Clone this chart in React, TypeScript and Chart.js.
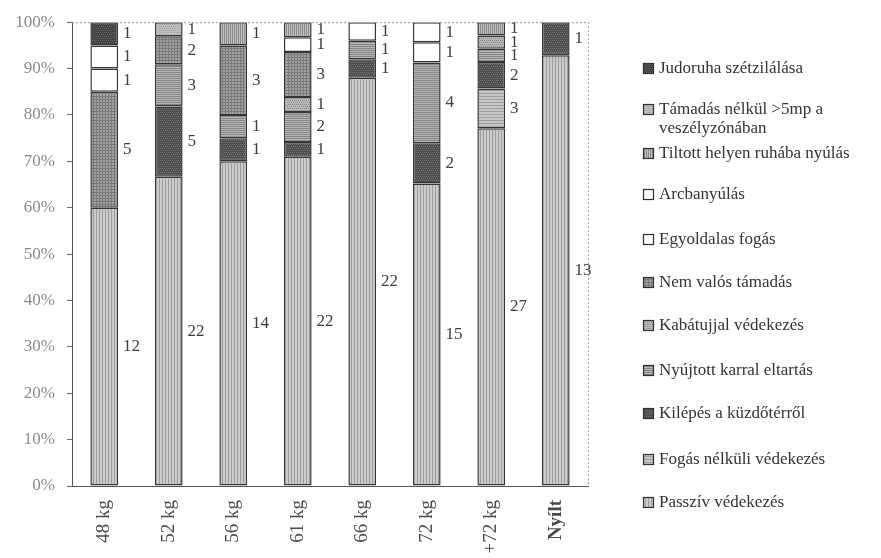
import { useEffect, useRef } from "react";
import { Chart, registerables } from "chart.js";

Chart.register(...registerables);

// Weight categories along the x axis
const categories = ["48 kg", "52 kg", "56 kg", "61 kg", "66 kg", "72 kg", "+72 kg", "Nyílt"];

// Number of penalties per category, one array per penalty type (stack order: bottom to top)
const passzivVedekezes = [12, 22, 14, 22, 22, 15, 27, 13];
const fogasNelkuliVedekezes = [0, 0, 0, 0, 0, 0, 3, 0];
const kilepes = [0, 5, 1, 1, 1, 2, 2, 1];
const nyujtottKarral = [0, 3, 1, 2, 1, 4, 1, 0];
const kabatujjal = [0, 0, 0, 1, 0, 0, 1, 0];
const nemValosTamadas = [5, 2, 3, 3, 0, 0, 0, 0];
const egyoldalasFogas = [1, 0, 0, 1, 1, 1, 0, 0];
const arcbanyulas = [1, 0, 0, 0, 0, 1, 0, 0];
const tiltottHelyen = [0, 0, 1, 1, 0, 0, 1, 0];
const tamadasNelkul = [0, 1, 0, 0, 0, 0, 0, 0];
const judoruha = [1, 0, 0, 0, 0, 0, 0, 0];

// Y axis ticks
const yTicks = [0, 10, 20, 30, 40, 50, 60, 70, 80, 90, 100];

const SERIF = "'Liberation Serif', 'DejaVu Serif', serif";

type Fill = (c: CanvasRenderingContext2D) => void;

function makePattern(size: number, draw: Fill): CanvasPattern | string {
  const cv = document.createElement("canvas");
  cv.width = size;
  cv.height = size;
  const c = cv.getContext("2d");
  if (!c) return "#bbb";
  draw(c);
  const p = c.createPattern(cv, "repeat");
  return p || "#bbb";
}

function solid(base: string): Fill {
  return (c) => {
    c.fillStyle = base;
    c.fillRect(0, 0, 64, 64);
  };
}

function vLines(base: string, line: string, step: number): Fill {
  return (c) => {
    solid(base)(c);
    c.fillStyle = line;
    for (let x = 0; x < c.canvas.width; x += step) c.fillRect(x, 0, 1, c.canvas.height);
  };
}

function hLines(base: string, line: string, step: number): Fill {
  return (c) => {
    solid(base)(c);
    c.fillStyle = line;
    for (let y = 0; y < c.canvas.height; y += step) c.fillRect(0, y, c.canvas.width, 1);
  };
}

function grid(base: string, line: string, step: number): Fill {
  return (c) => {
    vLines(base, line, step)(c);
    c.fillStyle = line;
    for (let y = 0; y < c.canvas.height; y += step) c.fillRect(0, y, c.canvas.width, 1);
  };
}

function dots(base: string, dot: string, step: number): Fill {
  return (c) => {
    solid(base)(c);
    c.fillStyle = dot;
    for (let y = 0; y < c.canvas.height; y += step)
      for (let x = (y / step) % 2 === 0 ? 0 : Math.floor(step / 2); x < c.canvas.width; x += step)
        c.fillRect(x, y, 1, 1);
  };
}

export default function App() {
  const canvasRef = useRef<HTMLCanvasElement | null>(null);

  useEffect(() => {
    document.body.style.margin = "0";
    const canvas = canvasRef.current;
    if (!canvas) return;

    const series = [
      { label: "Passzív védekezés", counts: passzivVedekezes, fill: makePattern(6, vLines("#cbcbcb", "#9c9c9c", 3)) },
      { label: "Fogás nélküli védekezés", counts: fogasNelkuliVedekezes, fill: makePattern(6, hLines("#c8c8c8", "#9e9e9e", 3)) },
      { label: "Kilépés a küzdőtérről", counts: kilepes, fill: makePattern(4, dots("#4e4e4e", "#747474", 2)) },
      { label: "Nyújtott karral eltartás", counts: nyujtottKarral, fill: makePattern(4, hLines("#b6b6b6", "#858585", 2)) },
      { label: "Kabátujjal védekezés", counts: kabatujjal, fill: makePattern(4, dots("#b8b8b8", "#8a8a8a", 2)) },
      { label: "Nem valós támadás", counts: nemValosTamadas, fill: makePattern(6, grid("#a2a2a2", "#787878", 3)) },
      { label: "Egyoldalas fogás", counts: egyoldalasFogas, fill: "#ffffff" },
      { label: "Arcbanyúlás", counts: arcbanyulas, fill: "#ffffff" },
      { label: "Tiltott helyen ruhába nyúlás", counts: tiltottHelyen, fill: makePattern(4, vLines("#c2c2c2", "#8a8a8a", 2)) },
      { label: "Támadás nélkül >5mp a veszélyzónában", counts: tamadasNelkul, fill: makePattern(4, dots("#c0c0c0", "#a0a0a0", 2)) },
      { label: "Judoruha szétzilálása", counts: judoruha, fill: makePattern(4, dots("#424242", "#666666", 2)) },
    ];

    const totals = categories.map((_, i) => series.reduce((s, d) => s + d.counts[i], 0));

    // Counts written beside every stacked segment
    const segmentLabels = {
      id: "segmentLabels",
      afterDatasetsDraw(chart: Chart) {
        const ctx = chart.ctx;
        ctx.save();
        ctx.font = `17px ${SERIF}`;
        ctx.fillStyle = "#3c3c3c";
        ctx.textAlign = "left";
        ctx.textBaseline = "middle";
        series.forEach((s, di) => {
          const meta = chart.getDatasetMeta(di);
          meta.data.forEach((el: any, j: number) => {
            const n = s.counts[j];
            if (!n) return;
            ctx.fillText(String(n), el.x + el.width / 2 + 5, (el.y + el.base) / 2);
          });
        });
        ctx.restore();
      },
    };

    // Dotted frame on top and right of the plot, plus the legend column
    const frameAndLegend = {
      id: "frameAndLegend",
      afterDraw(chart: Chart) {
        const { ctx, chartArea } = chart;
        ctx.save();
        ctx.strokeStyle = "#9a9a9a";
        ctx.lineWidth = 1;
        ctx.setLineDash([2, 2]);
        ctx.beginPath();
        ctx.moveTo(chartArea.left, chartArea.top + 0.5);
        ctx.lineTo(chartArea.right + 0.5, chartArea.top + 0.5);
        ctx.lineTo(chartArea.right + 0.5, chartArea.bottom);
        ctx.stroke();
        ctx.setLineDash([]);

        const legendX = 643;
        const rowY = [503, 460, 414, 371, 326, 283, 240, 195, 154, 110, 69];
        ctx.font = `17px ${SERIF}`;
        ctx.textBaseline = "middle";
        ctx.textAlign = "left";
        series.forEach((s, i) => {
          const y = rowY[i];
          ctx.fillStyle = s.fill as any;
          ctx.fillRect(legendX, y - 6, 11, 11);
          ctx.strokeStyle = "#2e2e2e";
          ctx.lineWidth = 1.2;
          ctx.strokeRect(legendX + 0.5, y - 5.5, 10, 10);
          ctx.fillStyle = "#333333";
          if (s.label.startsWith("Támadás")) {
            ctx.fillText("Támadás nélkül >5mp a", legendX + 16, y);
            ctx.fillText("veszélyzónában", legendX + 16, y + 19);
          } else {
            ctx.fillText(s.label, legendX + 16, y);
          }
        });
        ctx.restore();
      },
    };

    const chart = new Chart(canvas, {
      type: "bar",
      data: {
        labels: categories,
        datasets: series.map((s) => ({
          label: s.label,
          data: s.counts.map((c, i) => (c ? (c / totals[i]) * 100 : null)),
          backgroundColor: s.fill as any,
          borderColor: "#353535",
          borderWidth: 1.5,
          borderSkipped: false,
          barPercentage: 0.43,
          categoryPercentage: 1,
        })),
      },
      options: {
        responsive: false,
        animation: false,
        layout: { padding: { top: 21, right: 293, left: 0, bottom: 0 } },
        plugins: { legend: { display: false }, tooltip: { enabled: false } },
        scales: {
          x: {
            stacked: true,
            grid: { display: false },
            border: { color: "#555555", width: 1 },
            ticks: {
              minRotation: 90,
              maxRotation: 90,
              padding: 6,
              color: "#4a4a4a",
              font: (ctx: any) => ({
                family: SERIF,
                size: 19,
                weight: ctx.index === 7 ? "bold" : "normal",
              }),
            },
            afterFit: (s: any) => {
              s.height = 72;
            },
          },
          y: {
            stacked: true,
            min: 0,
            max: 100,
            afterBuildTicks: (s: any) => {
              s.ticks = yTicks.map((v) => ({ value: v }));
            },
            ticks: {
              color: "#8a8a8a",
              padding: 12,
              font: { family: SERIF, size: 17 },
              callback: (v: any) => `${v}%`,
            },
            grid: { drawOnChartArea: false, tickLength: 5, color: "#666666" },
            border: { color: "#555555", width: 1 },
            afterFit: (s: any) => {
              s.width = 72;
            },
          },
        },
      },
      plugins: [segmentLabels, frameAndLegend],
    });

    return () => chart.destroy();
  }, []);

  return (
    <div style={{ width: 881, height: 558, background: "#ffffff" }}>
      <canvas ref={canvasRef} width={881} height={558} style={{ display: "block" }} />
    </div>
  );
}
